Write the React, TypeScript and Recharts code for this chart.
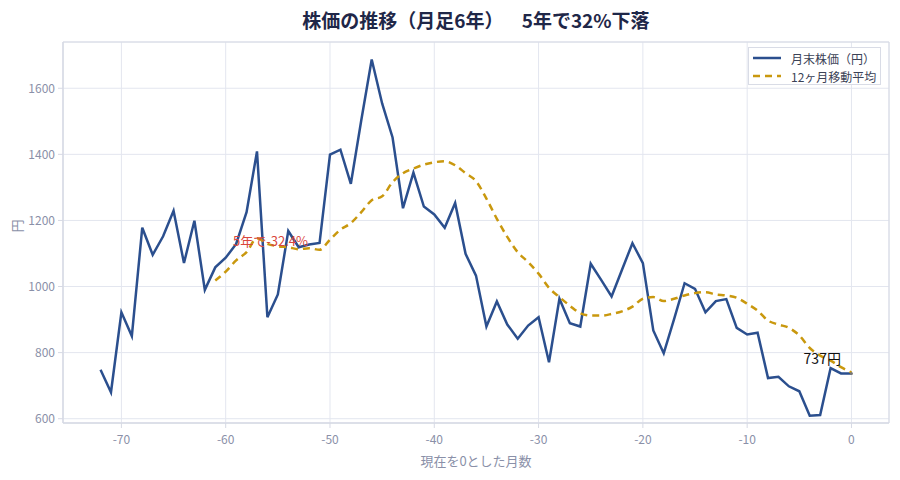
import {
  CartesianGrid,
  Line,
  LineChart,
  ReferenceArea,
  ReferenceDot,
  XAxis,
  YAxis,
} from "recharts";

const months = [
  -72, -71, -70, -69, -68, -67, -66, -65, -64, -63, -62, -61, -60, -59, -58,
  -57, -56, -55, -54, -53, -52, -51, -50, -49, -48, -47, -46, -45, -44, -43,
  -42, -41, -40, -39, -38, -37, -36, -35, -34, -33, -32, -31, -30, -29, -28,
  -27, -26, -25, -24, -23, -22, -21, -20, -19, -18, -17, -16, -15, -14, -13,
  -12, -11, -10, -9, -8, -7, -6, -5, -4, -3, -2, -1, 0,
];

// 月末株価（円）
const closePrice = [
  748, 680, 922, 850, 1178, 1096, 1152, 1229, 1071, 1199, 990, 1058, 1087,
  1129, 1225, 1409, 907, 976, 1168, 1119, 1127, 1132, 1399, 1414, 1311, 1503,
  1687, 1554, 1451, 1237, 1345, 1242, 1218, 1178, 1253, 1099, 1033, 879, 955,
  885, 842, 882, 907, 771, 963, 889, 879, 1069, 1020, 970, 1051, 1131, 1071,
  867, 798, 902, 1010, 993, 922, 956, 962, 875, 855, 860, 723, 727, 698, 683,
  609, 611, 753, 737, 737,
];

// 12ヶ月移動平均 (first 11 months have none)
const movingAvg = [
  null, null, null, null, null, null, null, null, null, null, null, 1018, 1045,
  1079, 1104, 1146, 1129, 1122, 1119, 1113, 1116, 1111, 1142, 1172, 1192, 1225,
  1261, 1273, 1316, 1343, 1357, 1369, 1376, 1379, 1367, 1343, 1319, 1266, 1205,
  1150, 1104, 1074, 1039, 996, 968, 942, 919, 912, 912, 917, 925, 939, 963, 968,
  956, 963, 973, 980, 983, 976, 973, 966, 948, 927, 897, 885, 875, 852, 814,
  791, 776, 756, 740,
];

const xTicks = [-70, -60, -50, -40, -30, -20, -10, 0];
const yTicks = [600, 800, 1000, 1200, 1400, 1600];

const BLUE = "#2b4f8e";
const GOLD = "#c9980e";
const GRID = "#e3e6ef";
const TICK = "#8a90a8";
const FONT = "'Noto Sans CJK JP', 'Noto Sans', sans-serif";

const X_DOMAIN: [number, number] = [-75.6, 3.6];
const Y_DOMAIN: [number, number] = [587, 1740];

const rows = months.map((m, i) => ({
  month: m,
  price: closePrice[i],
  ma: movingAvg[i],
}));

function LegendBox() {
  const row = { display: "flex", alignItems: "center", height: 18 };
  return (
    <div
      style={{
        position: "absolute",
        left: 748,
        top: 47,
        width: 133,
        height: 38,
        border: "1px solid #d9dce6",
        background: "#fff",
        fontSize: 12,
        color: "#3b4256",
        padding: "1px 0 0 4px",
        boxSizing: "border-box",
      }}
    >
      <div style={row}>
        <svg width={38} height={10}>
          <line x1={0} y1={5} x2={28} y2={5} stroke={BLUE} strokeWidth={2.5} />
        </svg>
        月末株価（円）
      </div>
      <div style={row}>
        <svg width={38} height={10}>
          <line
            x1={0}
            y1={5}
            x2={28}
            y2={5}
            stroke={GOLD}
            strokeWidth={2.5}
            strokeDasharray="7 5"
          />
        </svg>
        12ヶ月移動平均
      </div>
    </div>
  );
}

export default function App() {
  return (
    <div
      style={{
        position: "absolute",
        left: 0,
        top: 0,
        width: 900,
        height: 480,
        background: "#fff",
        fontFamily: FONT,
      }}
    >
      <div
        style={{
          position: "absolute",
          left: 63,
          width: 826,
          top: 6,
          textAlign: "center",
          fontSize: 19,
          fontWeight: 700,
          color: "#1f2748",
          whiteSpace: "pre",
        }}
      >
        {"株価の推移（月足6年）　  5年で32%下落"}
      </div>
      <LineChart
        width={900}
        height={480}
        data={rows}
        margin={{ top: 42, right: 11, bottom: 17, left: 0 }}
        style={{ fontFamily: FONT }}
      >
        <CartesianGrid stroke={GRID} strokeWidth={1} />
        <ReferenceArea
          x1={X_DOMAIN[0]}
          x2={X_DOMAIN[1]}
          y1={Y_DOMAIN[0]}
          y2={Y_DOMAIN[1]}
          fill="none"
          stroke="#d6d9e4"
          ifOverflow="visible"
        />
        <XAxis
          dataKey="month"
          type="number"
          domain={X_DOMAIN}
          ticks={xTicks}
          allowDataOverflow
          height={40}
          stroke="#d6d9e4"
          tickSize={5}
          tickMargin={7}
          tick={{ fill: TICK, fontSize: 12 }}
          label={{
            value: "現在を0とした月数",
            position: "insideBottom",
            offset: -3,
            fill: TICK,
            fontSize: 13,
          }}
        />
        <YAxis
          type="number"
          domain={Y_DOMAIN}
          ticks={yTicks}
          allowDataOverflow
          width={63}
          stroke="#d6d9e4"
          tickSize={5}
          tickMargin={3}
          tick={{ fill: TICK, fontSize: 12 }}
          label={{
            value: "円",
            angle: -90,
            position: "insideLeft",
            offset: 17,
            fill: TICK,
            fontSize: 13,
          }}
        />
        <Line
          dataKey="price"
          stroke={BLUE}
          strokeWidth={2.5}
          dot={false}
          isAnimationActive={false}
        />
        <Line
          dataKey="ma"
          type="monotone"
          stroke={GOLD}
          strokeWidth={2.5}
          strokeDasharray="7 5"
          dot={false}
          connectNulls={false}
          isAnimationActive={false}
        />
        <ReferenceDot
          x={-55.7}
          y={1136}
          r={1}
          fill="none"
          stroke="none"
          label={{
            value: "5年で-32.4%",
            position: "center",
            fill: "#d9463b",
            fontSize: 13,
          }}
        />
        <ReferenceDot
          x={-2.8}
          y={781}
          r={1}
          fill="none"
          stroke="none"
          label={{
            value: "737円",
            position: "center",
            fill: "#111",
            fontSize: 14,
          }}
        />
        <ReferenceDot x={0} y={737} r={1.5} fill="#777" stroke="none" />
      </LineChart>
      <LegendBox />
    </div>
  );
}
